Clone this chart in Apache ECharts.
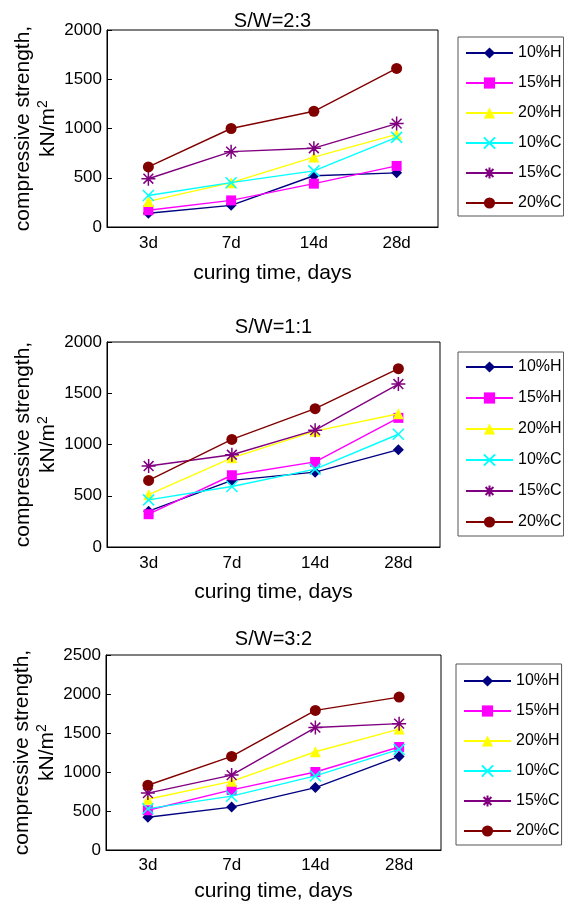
<!DOCTYPE html>
<html><head><meta charset="utf-8">
<script src="https://cdn.jsdelivr.net/npm/echarts@6/dist/echarts.min.js"></script>
<style>html,body{margin:0;padding:0;background:#fff}#c{width:564px;height:905px}</style>
</head><body><div id="c"></div>
<script>
// ---- data ----
const categories = ['3d', '7d', '14d', '28d'];
const seriesNames = ['10%H', '15%H', '20%H', '10%C', '15%C', '20%C'];
const panelTitles = ['S/W=2:3', 'S/W=1:1', 'S/W=3:2'];
const yMaxValues = [2000, 2000, 2500];
const yInterval = 500;
const xAxisName = 'curing time, days';
const yAxisName = 'compressive strength,\nkN/m{sup|2}';

// S/W = 2:3
const sw23_10H = [140, 220, 520, 550];
const sw23_15H = [170, 270, 440, 620];
const sw23_20H = [260, 450, 710, 940];
const sw23_10C = [320, 450, 570, 910];
const sw23_15C = [490, 765, 800, 1050];
const sw23_20C = [610, 1000, 1175, 1610];
// S/W = 1:1
const sw11_10H = [350, 650, 730, 950];
const sw11_15H = [320, 700, 830, 1260];
const sw11_20H = [510, 870, 1130, 1300];
const sw11_10C = [460, 590, 760, 1100];
const sw11_15C = [790, 900, 1140, 1590];
const sw11_20C = [650, 1050, 1350, 1740];
// S/W = 3:2
const sw32_10H = [420, 550, 800, 1200];
const sw32_15H = [510, 770, 1000, 1320];
const sw32_20H = [650, 880, 1260, 1550];
const sw32_10C = [530, 690, 950, 1290];
const sw32_15C = [730, 960, 1570, 1620];
const sw32_20C = [830, 1200, 1790, 1960];

const panelData = [
  [sw23_10H, sw23_15H, sw23_20H, sw23_10C, sw23_15C, sw23_20C],
  [sw11_10H, sw11_15H, sw11_20H, sw11_10C, sw11_15C, sw11_20C],
  [sw32_10H, sw32_15H, sw32_20H, sw32_10C, sw32_15C, sw32_20C]
];

// ---- styles ----
const FONT = '"Liberation Sans", Arial, Helvetica, sans-serif';
const styles = [
  { color: '#000080', symbol: 'diamond', size: 11 },
  { color: '#FF00FF', symbol: 'rect', size: 10 },
  { color: '#FFFF00', symbol: 'triangle', size: 11 },
  { color: '#00FFFF', symbol: 'path://M0,0L10,10M10,0L0,10', size: 11, stroke: true },
  { color: '#800080', symbol: 'path://M0,5L10,5M5,0L5,10M1.5,1.5L8.5,8.5M8.5,1.5L1.5,8.5M4.3,4.3L5.7,4.3L5.7,5.7L4.3,5.7Z', size: 14, stroke: true },
  { color: '#800000', symbol: 'circle', size: 11 }
];

const grids = [
  { left: 107, top: 30, width: 331, height: 197 },
  { left: 107, top: 342, width: 333, height: 205 },
  { left: 106, top: 655, width: 335, height: 195 }
];
const xNameGap = [36, 35, 31];
const xLabelMargin = [8, 8, 7];
const titleY = [21, 327, 639];
const legendPos = [
  { left: 458, top: 37, gap: 14, padding: [8, 2, 5, 7] },
  { left: 458, top: 352, gap: 15, padding: [7, 2, 6, 7] },
  { left: 456, top: 664, gap: 14, padding: [9, 2, 6, 7] }
];

const option = {
  animation: false,
  backgroundColor: '#fff',
  textStyle: { fontFamily: FONT },
  grid: [], xAxis: [], yAxis: [], series: [], legend: [], graphic: []
};

grids.forEach((g, i) => {
  option.grid.push(Object.assign({ show: true, borderColor: '#000', borderWidth: 1, backgroundColor: '#fff', containLabel: false, outerBoundsMode: 'none' }, g));
  option.xAxis.push({
    type: 'category', gridIndex: i, data: categories, boundaryGap: true, position: 'bottom',
    axisLine: { lineStyle: { color: '#000', width: 1 } },
    axisTick: { inside: true, length: 5, lineStyle: { color: '#000' } },
    axisLabel: { color: '#000', fontSize: 17, fontFamily: FONT, margin: xLabelMargin[i] },
    name: xAxisName, nameLocation: 'middle', nameGap: xNameGap[i], nameMoveOverlap: false,
    nameTextStyle: { color: '#000', fontSize: 21, fontFamily: FONT }
  });
  option.xAxis.push({
    type: 'category', gridIndex: i, data: categories, boundaryGap: true, position: 'bottom',
    axisLine: { show: false },
    axisTick: { inside: true, length: 5, alignWithLabel: true, lineStyle: { color: '#000' } },
    axisLabel: { show: false }
  });
  option.yAxis.push({
    type: 'value', gridIndex: i, min: 0, max: yMaxValues[i], interval: yInterval,
    axisLine: { show: true, lineStyle: { color: '#000', width: 1 } },
    axisTick: { show: true, inside: true, length: 5, lineStyle: { color: '#000' } },
    splitLine: { show: false },
    axisLabel: { color: '#000', fontSize: 17, fontFamily: FONT, margin: 5, formatter: v => String(v) },
    name: yAxisName, nameLocation: 'middle', nameGap: 46, nameMoveOverlap: false,
    nameTextStyle: {
      color: '#000', fontSize: 21, fontFamily: FONT, lineHeight: 25, align: 'center',
      rich: { sup: { fontSize: 14, fontFamily: FONT, color: '#000', lineHeight: 25, padding: [0, 0, 10, 0] } }
    }
  });
  panelData[i].forEach((vals, k) => {
    const s = styles[k];
    option.series.push({
      type: 'line', name: seriesNames[k], xAxisIndex: i * 2, yAxisIndex: i,
      data: vals, color: s.color,
      symbol: s.symbol, symbolSize: s.size,
      lineStyle: { color: s.color, width: 1.4 },
      itemStyle: s.stroke
        ? { color: s.color, borderColor: s.color, borderWidth: 1.5 }
        : { color: s.color, borderWidth: 0 },
      emphasis: { disabled: true },
      z: 2 + k
    });
  });
  const lp = legendPos[i];
  option.legend.push({
    orient: 'vertical', left: lp.left, top: lp.top, data: seriesNames,
    itemWidth: 47, itemHeight: 14, itemGap: lp.gap, itemTextGap: 4,
    padding: lp.padding, borderColor: '#555', borderWidth: 1, backgroundColor: '#fff',
    selectedMode: false,
    textStyle: { color: '#000', fontSize: 16, fontFamily: FONT }
  });
  option.graphic.push({
    type: 'text', x: g.left + g.width / 2, y: titleY[i],
    style: { text: panelTitles[i], fill: '#000', font: '20px ' + FONT, textAlign: 'center', textVerticalAlign: 'middle' }
  });
});

const chart = echarts.init(document.getElementById('c'), null, { renderer: 'canvas' });
chart.setOption(option);
</script>
</body></html>
